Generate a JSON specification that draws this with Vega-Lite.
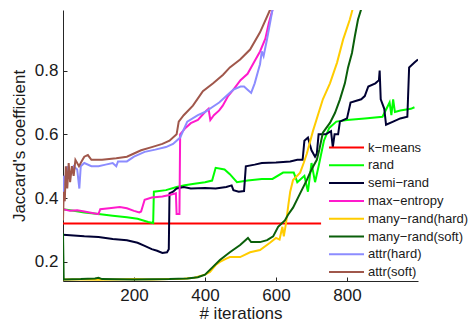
{
  "$schema": "https://vega.github.io/schema/vega-lite/v6.json",
  "width": 355,
  "height": 271,
  "autosize": {"type": "none"},
  "padding": {"left": 63, "top": 10, "right": 50, "bottom": 44},
  "background": "white",
  "config": {
    "view": {"stroke": null},
    "font": "Liberation Sans",
    "axis": {"grid": false, "domainColor": "#262626", "tickColor": "#262626", "labelColor": "#1a1a1a", "titleColor": "#1a1a1a", "labelFont": "Liberation Sans", "titleFont": "Liberation Sans", "labelFontSize": 17, "titleFontSize": 17, "titleFontWeight": "normal", "tickSize": -4, "domainWidth": 1}
  },
  "data": {"values": [
    {"s":"k−means","x":0,"y":0.32},{"s":"k−means","x":727,"y":0.32},

    {"s":"rand","x":0,"y":0.365},{"s":"rand","x":30,"y":0.36},{"s":"rand","x":60,"y":0.355},{"s":"rand","x":100,"y":0.35},{"s":"rand","x":140,"y":0.345},{"s":"rand","x":180,"y":0.34},{"s":"rand","x":210,"y":0.335},{"s":"rand","x":240,"y":0.325},{"s":"rand","x":254,"y":0.322},{"s":"rand","x":256,"y":0.42},{"s":"rand","x":290,"y":0.425},{"s":"rand","x":320,"y":0.435},{"s":"rand","x":343,"y":0.44},{"s":"rand","x":370,"y":0.445},{"s":"rand","x":400,"y":0.45},{"s":"rand","x":420,"y":0.455},{"s":"rand","x":430,"y":0.495},{"s":"rand","x":455,"y":0.49},{"s":"rand","x":470,"y":0.475},{"s":"rand","x":490,"y":0.45},{"s":"rand","x":520,"y":0.455},{"s":"rand","x":560,"y":0.46},{"s":"rand","x":590,"y":0.46},{"s":"rand","x":620,"y":0.48},{"s":"rand","x":650,"y":0.48},{"s":"rand","x":660,"y":0.45},{"s":"rand","x":680,"y":0.47},{"s":"rand","x":690,"y":0.42},{"s":"rand","x":700,"y":0.51},{"s":"rand","x":710,"y":0.45},{"s":"rand","x":720,"y":0.5},{"s":"rand","x":735,"y":0.58},{"s":"rand","x":750,"y":0.62},{"s":"rand","x":770,"y":0.64},{"s":"rand","x":800,"y":0.645},{"s":"rand","x":850,"y":0.65},{"s":"rand","x":900,"y":0.655},{"s":"rand","x":920,"y":0.7},{"s":"rand","x":925,"y":0.66},{"s":"rand","x":930,"y":0.71},{"s":"rand","x":935,"y":0.67},{"s":"rand","x":950,"y":0.675},{"s":"rand","x":980,"y":0.68},{"s":"rand","x":990,"y":0.685},

    {"s":"semi−rand","x":0,"y":0.285},{"s":"semi−rand","x":30,"y":0.283},{"s":"semi−rand","x":60,"y":0.28},{"s":"semi−rand","x":100,"y":0.278},{"s":"semi−rand","x":140,"y":0.272},{"s":"semi−rand","x":180,"y":0.268},{"s":"semi−rand","x":210,"y":0.26},{"s":"semi−rand","x":230,"y":0.25},{"s":"semi−rand","x":250,"y":0.24},{"s":"semi−rand","x":265,"y":0.235},{"s":"semi−rand","x":280,"y":0.228},{"s":"semi−rand","x":293,"y":0.23},{"s":"semi−rand","x":298,"y":0.24},{"s":"semi−rand","x":300,"y":0.415},{"s":"semi−rand","x":310,"y":0.42},{"s":"semi−rand","x":320,"y":0.43},{"s":"semi−rand","x":340,"y":0.435},{"s":"semi−rand","x":360,"y":0.43},{"s":"semi−rand","x":400,"y":0.432},{"s":"semi−rand","x":430,"y":0.43},{"s":"semi−rand","x":460,"y":0.435},{"s":"semi−rand","x":475,"y":0.44},{"s":"semi−rand","x":480,"y":0.425},{"s":"semi−rand","x":495,"y":0.42},{"s":"semi−rand","x":510,"y":0.422},{"s":"semi−rand","x":515,"y":0.5},{"s":"semi−rand","x":540,"y":0.505},{"s":"semi−rand","x":560,"y":0.51},{"s":"semi−rand","x":600,"y":0.512},{"s":"semi−rand","x":640,"y":0.515},{"s":"semi−rand","x":660,"y":0.52},{"s":"semi−rand","x":675,"y":0.52},{"s":"semi−rand","x":680,"y":0.58},{"s":"semi−rand","x":690,"y":0.59},{"s":"semi−rand","x":700,"y":0.55},{"s":"semi−rand","x":710,"y":0.53},{"s":"semi−rand","x":715,"y":0.54},{"s":"semi−rand","x":720,"y":0.6},{"s":"semi−rand","x":740,"y":0.6},{"s":"semi−rand","x":755,"y":0.61},{"s":"semi−rand","x":760,"y":0.56},{"s":"semi−rand","x":765,"y":0.6},{"s":"semi−rand","x":775,"y":0.6},{"s":"semi−rand","x":780,"y":0.64},{"s":"semi−rand","x":800,"y":0.65},{"s":"semi−rand","x":810,"y":0.7},{"s":"semi−rand","x":840,"y":0.71},{"s":"semi−rand","x":850,"y":0.72},{"s":"semi−rand","x":860,"y":0.75},{"s":"semi−rand","x":880,"y":0.76},{"s":"semi−rand","x":890,"y":0.77},{"s":"semi−rand","x":892,"y":0.8},{"s":"semi−rand","x":895,"y":0.71},{"s":"semi−rand","x":905,"y":0.68},{"s":"semi−rand","x":910,"y":0.63},{"s":"semi−rand","x":930,"y":0.64},{"s":"semi−rand","x":950,"y":0.65},{"s":"semi−rand","x":970,"y":0.655},{"s":"semi−rand","x":975,"y":0.81},{"s":"semi−rand","x":990,"y":0.825},{"s":"semi−rand","x":1000,"y":0.835},

    {"s":"max−entropy","x":0,"y":0.365},{"s":"max−entropy","x":20,"y":0.36},{"s":"max−entropy","x":40,"y":0.362},{"s":"max−entropy","x":60,"y":0.358},{"s":"max−entropy","x":90,"y":0.352},{"s":"max−entropy","x":100,"y":0.35},{"s":"max−entropy","x":105,"y":0.365},{"s":"max−entropy","x":130,"y":0.368},{"s":"max−entropy","x":160,"y":0.372},{"s":"max−entropy","x":180,"y":0.368},{"s":"max−entropy","x":200,"y":0.36},{"s":"max−entropy","x":215,"y":0.355},{"s":"max−entropy","x":220,"y":0.358},{"s":"max−entropy","x":230,"y":0.395},{"s":"max−entropy","x":250,"y":0.402},{"s":"max−entropy","x":280,"y":0.405},{"s":"max−entropy","x":300,"y":0.41},{"s":"max−entropy","x":318,"y":0.415},{"s":"max−entropy","x":320,"y":0.35},{"s":"max−entropy","x":328,"y":0.35},{"s":"max−entropy","x":330,"y":0.6},{"s":"max−entropy","x":345,"y":0.62},{"s":"max−entropy","x":360,"y":0.635},{"s":"max−entropy","x":380,"y":0.645},{"s":"max−entropy","x":400,"y":0.67},{"s":"max−entropy","x":410,"y":0.68},{"s":"max−entropy","x":415,"y":0.645},{"s":"max−entropy","x":425,"y":0.66},{"s":"max−entropy","x":440,"y":0.675},{"s":"max−entropy","x":450,"y":0.69},{"s":"max−entropy","x":465,"y":0.72},{"s":"max−entropy","x":480,"y":0.74},{"s":"max−entropy","x":500,"y":0.77},{"s":"max−entropy","x":520,"y":0.79},{"s":"max−entropy","x":540,"y":0.83},{"s":"max−entropy","x":555,"y":0.86},{"s":"max−entropy","x":570,"y":0.9},{"s":"max−entropy","x":580,"y":0.95},{"s":"max−entropy","x":590,"y":0.99},{"s":"max−entropy","x":600,"y":1.03},

    {"s":"\u00a0many−rand(hard)","x":0,"y":0.145},{"s":"\u00a0many−rand(hard)","x":50,"y":0.145},{"s":"\u00a0many−rand(hard)","x":100,"y":0.144},{"s":"\u00a0many−rand(hard)","x":150,"y":0.145},{"s":"\u00a0many−rand(hard)","x":200,"y":0.146},{"s":"\u00a0many−rand(hard)","x":250,"y":0.145},{"s":"\u00a0many−rand(hard)","x":300,"y":0.146},{"s":"\u00a0many−rand(hard)","x":340,"y":0.147},{"s":"\u00a0many−rand(hard)","x":370,"y":0.15},{"s":"\u00a0many−rand(hard)","x":400,"y":0.16},{"s":"\u00a0many−rand(hard)","x":414,"y":0.168},{"s":"\u00a0many−rand(hard)","x":430,"y":0.19},{"s":"\u00a0many−rand(hard)","x":442,"y":0.2},{"s":"\u00a0many−rand(hard)","x":460,"y":0.21},{"s":"\u00a0many−rand(hard)","x":470,"y":0.215},{"s":"\u00a0many−rand(hard)","x":499,"y":0.215},{"s":"\u00a0many−rand(hard)","x":527,"y":0.23},{"s":"\u00a0many−rand(hard)","x":555,"y":0.237},{"s":"\u00a0many−rand(hard)","x":583,"y":0.26},{"s":"\u00a0many−rand(hard)","x":600,"y":0.275},{"s":"\u00a0many−rand(hard)","x":610,"y":0.27},{"s":"\u00a0many−rand(hard)","x":618,"y":0.31},{"s":"\u00a0many−rand(hard)","x":622,"y":0.28},{"s":"\u00a0many−rand(hard)","x":628,"y":0.32},{"s":"\u00a0many−rand(hard)","x":635,"y":0.38},{"s":"\u00a0many−rand(hard)","x":640,"y":0.42},{"s":"\u00a0many−rand(hard)","x":648,"y":0.457},{"s":"\u00a0many−rand(hard)","x":668,"y":0.48},{"s":"\u00a0many−rand(hard)","x":678,"y":0.51},{"s":"\u00a0many−rand(hard)","x":687,"y":0.54},{"s":"\u00a0many−rand(hard)","x":704,"y":0.61},{"s":"\u00a0many−rand(hard)","x":732,"y":0.71},{"s":"\u00a0many−rand(hard)","x":752,"y":0.76},{"s":"\u00a0many−rand(hard)","x":772,"y":0.825},{"s":"\u00a0many−rand(hard)","x":789,"y":0.897},{"s":"\u00a0many−rand(hard)","x":808,"y":0.96},{"s":"\u00a0many−rand(hard)","x":820,"y":1.01},

    {"s":"many−rand(soft)","x":0,"y":0.29},{"s":"many−rand(soft)","x":2,"y":0.145},{"s":"many−rand(soft)","x":50,"y":0.146},{"s":"many−rand(soft)","x":90,"y":0.148},{"s":"many−rand(soft)","x":100,"y":0.15},{"s":"many−rand(soft)","x":110,"y":0.146},{"s":"many−rand(soft)","x":200,"y":0.145},{"s":"many−rand(soft)","x":300,"y":0.146},{"s":"many−rand(soft)","x":350,"y":0.148},{"s":"many−rand(soft)","x":380,"y":0.152},{"s":"many−rand(soft)","x":400,"y":0.16},{"s":"many−rand(soft)","x":423,"y":0.185},{"s":"many−rand(soft)","x":442,"y":0.206},{"s":"many−rand(soft)","x":470,"y":0.23},{"s":"many−rand(soft)","x":499,"y":0.253},{"s":"many−rand(soft)","x":521,"y":0.275},{"s":"many−rand(soft)","x":530,"y":0.262},{"s":"many−rand(soft)","x":555,"y":0.262},{"s":"many−rand(soft)","x":575,"y":0.268},{"s":"many−rand(soft)","x":592,"y":0.28},{"s":"many−rand(soft)","x":606,"y":0.31},{"s":"many−rand(soft)","x":625,"y":0.33},{"s":"many−rand(soft)","x":634,"y":0.348},{"s":"many−rand(soft)","x":648,"y":0.37},{"s":"many−rand(soft)","x":668,"y":0.415},{"s":"many−rand(soft)","x":687,"y":0.457},{"s":"many−rand(soft)","x":696,"y":0.48},{"s":"many−rand(soft)","x":705,"y":0.5},{"s":"many−rand(soft)","x":715,"y":0.52},{"s":"many−rand(soft)","x":722,"y":0.552},{"s":"many−rand(soft)","x":732,"y":0.605},{"s":"many−rand(soft)","x":752,"y":0.636},{"s":"many−rand(soft)","x":766,"y":0.667},{"s":"many−rand(soft)","x":780,"y":0.709},{"s":"many−rand(soft)","x":794,"y":0.76},{"s":"many−rand(soft)","x":803,"y":0.81},{"s":"many−rand(soft)","x":814,"y":0.855},{"s":"many−rand(soft)","x":822,"y":0.907},{"s":"many−rand(soft)","x":831,"y":0.96},{"s":"many−rand(soft)","x":842,"y":1.0},{"s":"many−rand(soft)","x":850,"y":1.03},

    {"s":"attr(hard)","x":0,"y":0.38},{"s":"attr(hard)","x":3,"y":0.47},{"s":"attr(hard)","x":8,"y":0.44},{"s":"attr(hard)","x":12,"y":0.5},{"s":"attr(hard)","x":20,"y":0.47},{"s":"attr(hard)","x":30,"y":0.5},{"s":"attr(hard)","x":40,"y":0.49},{"s":"attr(hard)","x":46,"y":0.43},{"s":"attr(hard)","x":50,"y":0.5},{"s":"attr(hard)","x":60,"y":0.51},{"s":"attr(hard)","x":80,"y":0.5},{"s":"attr(hard)","x":100,"y":0.5},{"s":"attr(hard)","x":120,"y":0.505},{"s":"attr(hard)","x":140,"y":0.51},{"s":"attr(hard)","x":150,"y":0.5},{"s":"attr(hard)","x":155,"y":0.515},{"s":"attr(hard)","x":180,"y":0.515},{"s":"attr(hard)","x":200,"y":0.53},{"s":"attr(hard)","x":230,"y":0.545},{"s":"attr(hard)","x":260,"y":0.552},{"s":"attr(hard)","x":290,"y":0.56},{"s":"attr(hard)","x":310,"y":0.57},{"s":"attr(hard)","x":330,"y":0.59},{"s":"attr(hard)","x":350,"y":0.64},{"s":"attr(hard)","x":380,"y":0.66},{"s":"attr(hard)","x":400,"y":0.67},{"s":"attr(hard)","x":420,"y":0.685},{"s":"attr(hard)","x":440,"y":0.7},{"s":"attr(hard)","x":460,"y":0.72},{"s":"attr(hard)","x":480,"y":0.74},{"s":"attr(hard)","x":500,"y":0.75},{"s":"attr(hard)","x":510,"y":0.75},{"s":"attr(hard)","x":520,"y":0.74},{"s":"attr(hard)","x":530,"y":0.73},{"s":"attr(hard)","x":540,"y":0.76},{"s":"attr(hard)","x":550,"y":0.8},{"s":"attr(hard)","x":555,"y":0.82},{"s":"attr(hard)","x":560,"y":0.86},{"s":"attr(hard)","x":565,"y":0.845},{"s":"attr(hard)","x":575,"y":0.9},{"s":"attr(hard)","x":585,"y":0.96},{"s":"attr(hard)","x":595,"y":1.02},

    {"s":"attr(soft)","x":0,"y":0.33},{"s":"attr(soft)","x":2,"y":0.42},{"s":"attr(soft)","x":5,"y":0.39},{"s":"attr(soft)","x":8,"y":0.5},{"s":"attr(soft)","x":12,"y":0.43},{"s":"attr(soft)","x":16,"y":0.51},{"s":"attr(soft)","x":20,"y":0.45},{"s":"attr(soft)","x":25,"y":0.5},{"s":"attr(soft)","x":30,"y":0.47},{"s":"attr(soft)","x":35,"y":0.52},{"s":"attr(soft)","x":45,"y":0.5},{"s":"attr(soft)","x":55,"y":0.52},{"s":"attr(soft)","x":60,"y":0.53},{"s":"attr(soft)","x":70,"y":0.535},{"s":"attr(soft)","x":80,"y":0.52},{"s":"attr(soft)","x":110,"y":0.52},{"s":"attr(soft)","x":150,"y":0.525},{"s":"attr(soft)","x":180,"y":0.53},{"s":"attr(soft)","x":200,"y":0.54},{"s":"attr(soft)","x":220,"y":0.55},{"s":"attr(soft)","x":250,"y":0.56},{"s":"attr(soft)","x":280,"y":0.57},{"s":"attr(soft)","x":300,"y":0.58},{"s":"attr(soft)","x":320,"y":0.6},{"s":"attr(soft)","x":326,"y":0.64},{"s":"attr(soft)","x":340,"y":0.66},{"s":"attr(soft)","x":366,"y":0.69},{"s":"attr(soft)","x":394,"y":0.735},{"s":"attr(soft)","x":423,"y":0.76},{"s":"attr(soft)","x":451,"y":0.787},{"s":"attr(soft)","x":470,"y":0.81},{"s":"attr(soft)","x":499,"y":0.835},{"s":"attr(soft)","x":527,"y":0.866},{"s":"attr(soft)","x":555,"y":0.92},{"s":"attr(soft)","x":583,"y":0.99},{"s":"attr(soft)","x":600,"y":1.03}
  ]},
  "mark": {"type": "line", "strokeWidth": 2, "clip": true},
  "encoding": {
    "x": {"field": "x", "type": "quantitative", "title": "# iterations", "scale": {"domain": [0, 1000], "nice": false, "zero": false}, "axis": {"values": [200, 400, 600, 800], "labelPadding": 10, "titlePadding": 2}},
    "y": {"field": "y", "type": "quantitative", "title": "Jaccard's coefficient", "scale": {"domain": [0.14, 0.99], "nice": false, "zero": false}, "axis": {"values": [0.2, 0.4, 0.6, 0.8], "format": ".1f", "labelPadding": 9, "titlePadding": 6}},
    "color": {"field": "s", "type": "nominal", "sort": null,
      "scale": {"domain": ["k−means", "rand", "semi−rand", "max−entropy", "\u00a0many−rand(hard)", "many−rand(soft)", "attr(hard)", "attr(soft)"],
                "range": ["#ff0000", "#00ff00", "#000033", "#ff1acc", "#ffcc00", "#0a5f0a", "#8c8cff", "#a0574b"]},
      "legend": {"title": null, "orient": "none", "legendX": 265, "legendY": 131, "symbolType": "stroke", "symbolSize": 1225, "symbolStrokeWidth": 2, "clipHeight": 13, "labelFontSize": 13, "labelFont": "Liberation Sans", "labelColor": "#1a1a1a", "rowPadding": 3.8, "labelOffset": 3, "padding": 0, "labelLimit": 300}}
  }
}
